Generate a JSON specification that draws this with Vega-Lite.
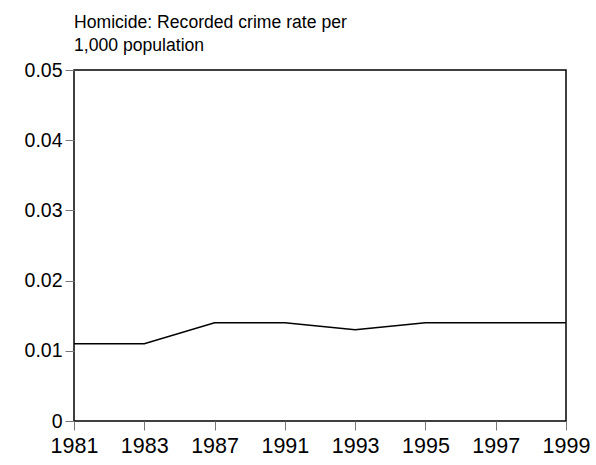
{
  "$schema": "https://vega.github.io/schema/vega-lite/v6.json",
  "autosize": "none",
  "width": 492,
  "height": 351,
  "padding": {"left": 74, "top": 70, "right": 30, "bottom": 44},
  "background": "white",
  "title": {
    "text": ["Homicide: Recorded crime rate per", "1,000 population"],
    "anchor": "start",
    "frame": "group",
    "font": "Liberation Sans",
    "fontSize": 17.6,
    "fontWeight": "normal",
    "color": "black",
    "lineHeight": 23,
    "offset": 5
  },
  "config": {
    "view": {"stroke": "black", "strokeWidth": 1.5},
    "axis": {
      "labelFont": "Liberation Sans",
      "labelColor": "black",
      "tickColor": "#777",
      "tickSize": 9,
      "domain": false,
      "grid": false,
      "title": null
    }
  },
  "data": {
    "values": [
      {"year": "1981", "rate": 0.011},
      {"year": "1983", "rate": 0.011},
      {"year": "1987", "rate": 0.014},
      {"year": "1991", "rate": 0.014},
      {"year": "1993", "rate": 0.013},
      {"year": "1995", "rate": 0.014},
      {"year": "1997", "rate": 0.014},
      {"year": "1999", "rate": 0.014}
    ]
  },
  "mark": {"type": "line", "color": "black", "strokeWidth": 1.5},
  "encoding": {
    "x": {
      "field": "year",
      "type": "ordinal",
      "scale": {"type": "point", "padding": 0},
      "axis": {"labelAngle": 0, "labelPadding": 5, "labelFontSize": 21.5}
    },
    "y": {
      "field": "rate",
      "type": "quantitative",
      "scale": {"domain": [0, 0.05]},
      "axis": {"values": [0, 0.01, 0.02, 0.03, 0.04, 0.05], "format": ".2~f", "labelPadding": 3, "labelFontSize": 19.5}
    }
  }
}
